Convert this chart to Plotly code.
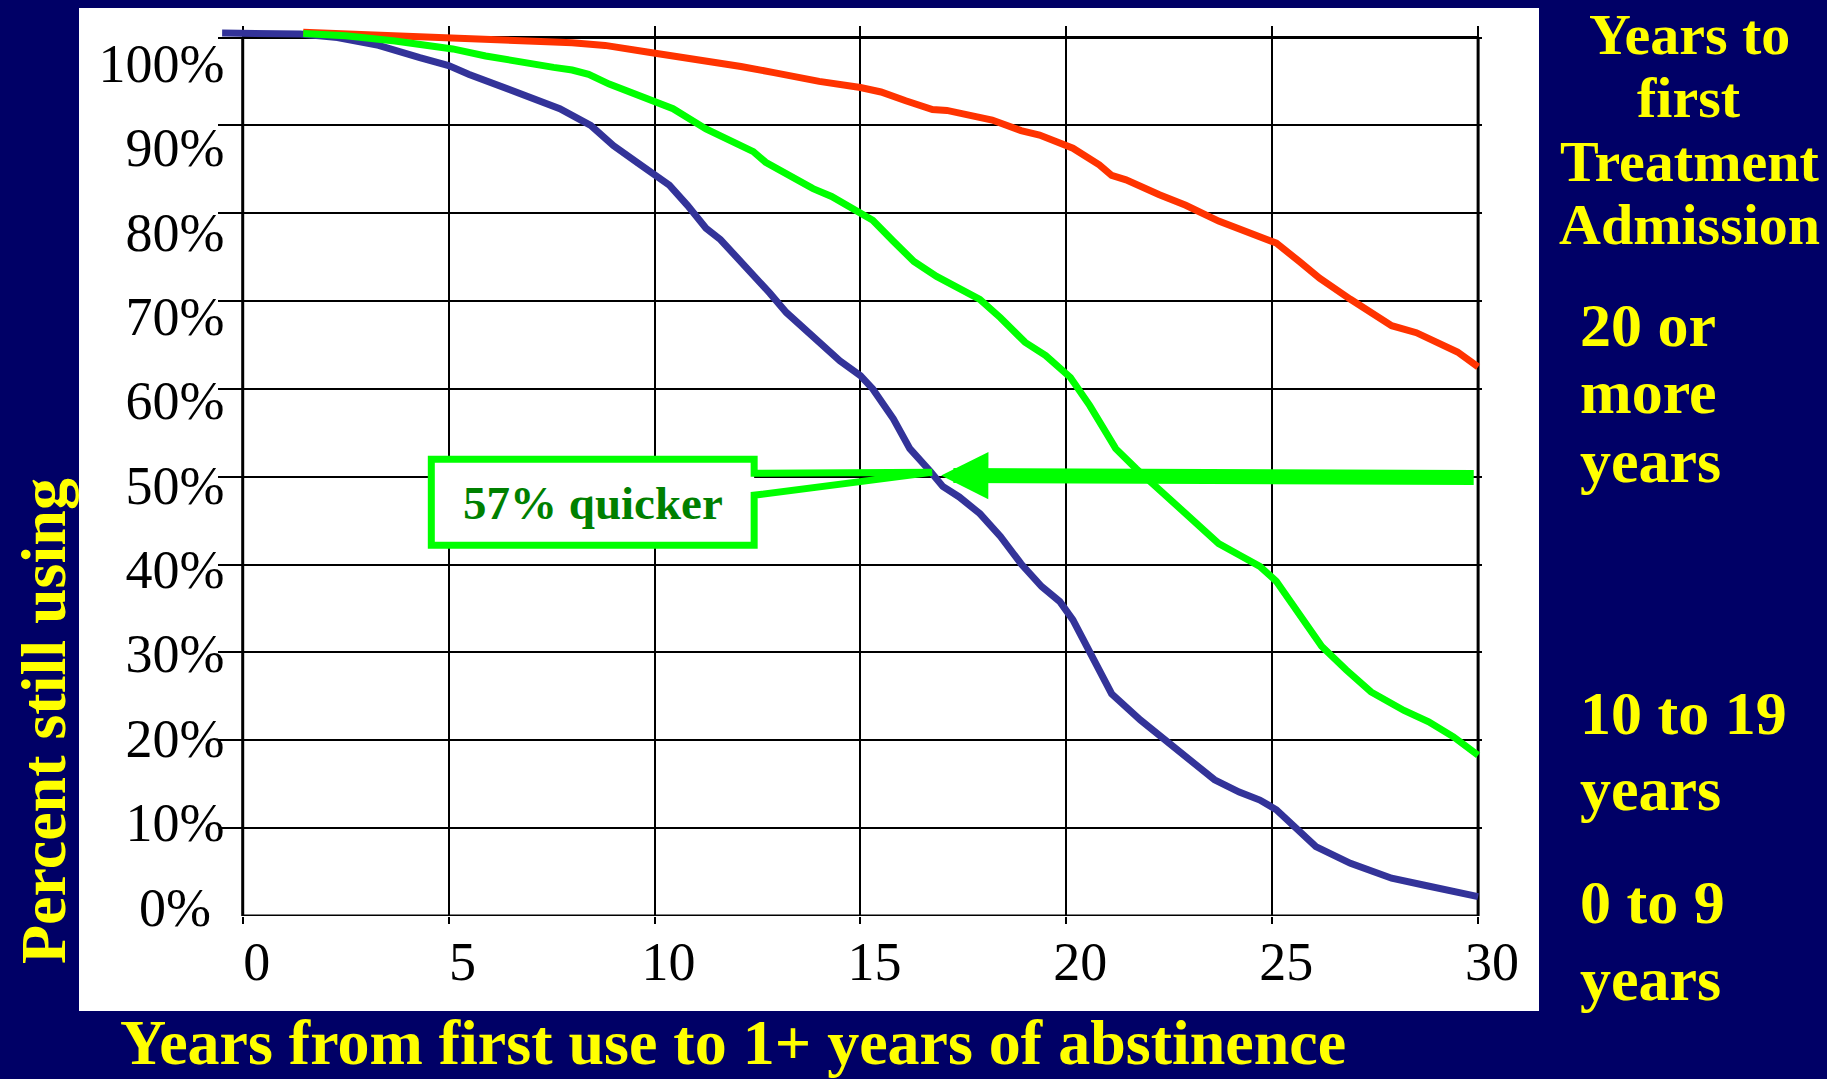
import plotly.graph_objects as go

# ---------------- data ----------------
years_0_9 = [-0.5, 1.4, 2.3, 3.3, 4.3, 5.0, 5.5, 6.2, 6.9, 7.7, 8.45, 9.0, 9.6, 10.36, 10.8,
             11.25, 11.6, 12.3, 12.8, 13.2, 13.85, 14.5, 15.0, 15.3, 15.8, 16.2, 16.7, 17.0,
             17.4, 17.9, 18.4, 18.9, 19.4, 19.84, 20.16, 20.65, 21.1, 21.8, 22.3, 23.07, 23.6,
             24.2, 24.7, 25.1, 25.5, 26.06, 26.9, 27.5, 27.9, 28.7, 29.4, 30.0]
pct_0_9 = [100.5, 100.4, 100.0, 99.1, 97.7, 96.8, 95.8, 94.5, 93.2, 91.9, 90.0, 87.7, 85.7,
           83.2, 80.9, 78.3, 77.0, 73.6, 70.9, 68.7, 66.0, 63.2, 61.5, 60.0, 56.6, 53.2, 50.6,
           48.9, 47.7, 45.8, 43.2, 40.1, 37.5, 35.8, 33.7, 29.5, 25.3, 22.3, 20.4, 17.4, 15.5,
           14.1, 13.2, 12.1, 10.3, 7.9, 6.0, 5.0, 4.3, 3.5, 2.8, 2.2]

years_10_19 = [1.47, 2.5, 3.7, 4.6, 5.1, 5.9, 6.7, 7.55, 8.0, 8.4, 8.9, 9.4, 9.9, 10.45, 11.25,
               11.75, 12.4, 12.7, 13.3, 13.85, 14.3, 14.9, 15.3, 15.8, 16.3, 16.85, 17.4, 17.9,
               18.4, 19.0, 19.5, 20.1, 20.57, 20.8, 21.2, 21.7, 22.0, 22.5, 23.07, 23.7, 24.2,
               24.7, 25.1, 25.66, 26.2, 26.8, 27.4, 28.2, 28.8, 29.4, 30.0]
pct_10_19 = [100.45, 100.2, 99.6, 99.1, 98.7, 97.9, 97.2, 96.6, 96.3, 95.8, 94.7, 93.8, 92.8,
             91.9, 89.6, 88.5, 87.0, 85.8, 84.2, 82.8, 81.9, 80.4, 79.2, 76.8, 74.5, 72.8, 71.5,
             70.2, 68.1, 65.3, 63.8, 61.3, 58.1, 56.2, 53.2, 50.9, 49.6, 47.4, 44.9, 42.4, 41.1,
             39.8, 38.1, 34.5, 30.7, 28.0, 25.5, 23.4, 22.1, 20.4, 18.3]

years_20_plus = [1.47, 2.7, 4.0, 5.05, 6.1, 7.55, 8.0, 8.8, 9.9, 10.6, 11.3, 12.1, 12.9, 14.0,
                 15.0, 15.5, 16.1, 16.75, 17.1, 18.2, 18.9, 19.35, 20.16, 20.8, 21.1, 21.45,
                 22.26, 22.9, 23.7, 24.4, 25.1, 25.66, 26.15, 26.9, 27.9, 28.5, 29.05, 29.5, 30.0]
pct_20_plus = [100.6, 100.4, 100.2, 100.1, 99.8, 99.5, 99.4, 99.1, 98.3, 97.8, 97.4, 96.7, 96.0,
               95.0, 94.3, 93.8, 92.8, 91.8, 91.7, 90.6, 89.4, 88.9, 87.4, 85.5, 84.3, 83.8,
               82.1, 80.9, 79.1, 77.9, 76.6, 74.5, 72.6, 70.2, 67.2, 66.4, 65.3, 64.2, 62.5]

x_ticks = [0, 5, 10, 15, 20, 25, 30]
x_tick_text = [str(v) for v in x_ticks]
y_ticks = [0, 10, 20, 30, 40, 50, 60, 70, 80, 90, 100]
y_tick_text = ["0%\u00a0"] + [f"{v}%" for v in y_ticks[1:]]

# callout / arrow anchor values (data units)
median_point = (16.96, 50.15)     # where the arrow meets the 0-9 curve
arrow_tail = (29.93, 49.9)
callout_tip = (16.74, 50.5)
callout_box = dict(x0=4.58, x1=12.42, y0=42.2, y1=52.0, wedge_top=50.4, wedge_bottom=47.9)
callout_text = "57% quicker"

# ---------------- style ----------------
BG = "#000066"
YELLOW = "#FFFF00"
SERIF = "Liberation Serif, Times New Roman, serif"
C_BLUE = "#333399"
C_RED = "#FF3300"
C_GREEN = "#00FF00"

fig = go.Figure()
for xs, ys, col in [(years_0_9, pct_0_9, C_BLUE),
                    (years_20_plus, pct_20_plus, C_RED),
                    (years_10_19, pct_10_19, C_GREEN)]:
    fig.add_trace(go.Scatter(x=xs, y=ys, mode="lines", line=dict(color=col, width=7),
                             hoverinfo="skip", showlegend=False))
# carrier trace for the label axis
fig.add_trace(go.Scatter(x=[], y=[], yaxis="y2", showlegend=False, hoverinfo="skip"))

L, R, T, B = 218, 345, 26, 163
W, H = 1827, 1079
PW, PH = W - L - R, H - T - B


def px_x(p):
    return (p - L) / PW


def px_y(p):
    return (H - B - p) / PH


shapes = []
# white slide panel
shapes.append(dict(type="rect", xref="paper", yref="paper", x0=px_x(79), x1=px_x(1539),
                   y0=px_y(1011), y1=px_y(8), fillcolor="white", line=dict(width=0),
                   layer="below"))
# frame
xmin, xmax, ymin, ymax = x_ticks[0], x_ticks[-1], y_ticks[0], y_ticks[-1]
for (a0, b0, a1, b1) in [(xmin, ymin, xmax, ymin), (xmin, ymax, xmax, ymax),
                         (xmin, ymin, xmin, ymax), (xmax, ymin, xmax, ymax)]:
    shapes.append(dict(type="line", xref="x", yref="y", x0=a0, y0=b0, x1=a1, y1=b1,
                       line=dict(color="black", width=3), layer="between"))
# callout box
cb = callout_box
shapes.append(dict(type="rect", xref="x", yref="y", x0=cb["x0"], x1=cb["x1"], y0=cb["y0"],
                   y1=cb["y1"], fillcolor="white", line=dict(width=0), layer="above"))
path = (f"M {cb['x1']},{cb['wedge_top']} L {callout_tip[0]},{callout_tip[1]} "
        f"L {cb['x1']},{cb['wedge_bottom']} L {cb['x1']},{cb['y0']} L {cb['x0']},{cb['y0']} "
        f"L {cb['x0']},{cb['y1']} L {cb['x1']},{cb['y1']} Z")
shapes.append(dict(type="path", xref="x", yref="y", path=path, fillcolor="rgba(0,0,0,0)",
                   line=dict(color=C_GREEN, width=7), layer="above"))

annotations = []
# big arrow
annotations.append(dict(x=median_point[0], y=median_point[1], ax=arrow_tail[0], ay=arrow_tail[1],
                        xref="x", yref="y", axref="x", ayref="y", text="", showarrow=True,
                        arrowhead=2, arrowsize=0.63, arrowwidth=15, arrowcolor=C_GREEN))
annotations.append(dict(x=(cb["x0"] + cb["x1"]) / 2, y=47.0, xref="x", yref="y",
                        text=f"<b>{callout_text}</b>", showarrow=False,
                        font=dict(family=SERIF, size=47, color="#008000"),
                        xanchor="center", yanchor="middle"))
# axis titles
annotations.append(dict(x=px_x(733), y=px_y(1042), xref="paper", yref="paper",
                        text="<b>Years from first use to 1+ years of abstinence</b>",
                        showarrow=False, font=dict(family=SERIF, size=64, color=YELLOW),
                        xanchor="center", yanchor="middle"))
annotations.append(dict(x=px_x(43), y=px_y(721), xref="paper", yref="paper",
                        text="<b>Percent still using</b>", textangle=-90,
                        showarrow=False, font=dict(family=SERIF, size=64, color=YELLOW),
                        xanchor="center", yanchor="middle"))
# legend-like side text
header = [("Years to", 35), ("first", 97), ("Treatment", 162), ("Admission", 224)]
for txt, py in header:
    annotations.append(dict(x=px_x(1689), y=px_y(py), xref="paper", yref="paper",
                            text=f"<b>{txt}</b>", showarrow=False,
                            font=dict(family=SERIF, size=58, color=YELLOW),
                            xanchor="center", yanchor="middle"))
groups = [("20 or", 325), ("more", 392), ("years", 461),
          ("10 to 19", 713), ("years", 789),
          ("0 to 9", 902), ("years", 979)]
for txt, py in groups:
    annotations.append(dict(x=px_x(1578), y=px_y(py), xref="paper", yref="paper",
                            text=f"<b>{txt}</b>", showarrow=False,
                            font=dict(family=SERIF, size=62, color=YELLOW),
                            xanchor="left", yanchor="middle"))

px_per_x = 41.18
px_per_y = 8.785
label_px_per_unit = 8.437
label_zero_px = 906.7

fig.update_layout(
    width=W, height=H,
    margin=dict(l=L, r=R, t=T, b=B, pad=0),
    paper_bgcolor=BG, plot_bgcolor="white",
    xaxis=dict(range=[-0.6, -0.6 + PW / px_per_x], tickvals=x_ticks, ticktext=x_tick_text,
               showgrid=True, gridcolor="black", gridwidth=2, zeroline=False, showline=False,
               ticks="outside", ticklen=7, tickwidth=2, tickcolor="black",
               tickfont=dict(family=SERIF, size=54, color="black"),
               ticklabelshift=14, ticklabelstandoff=-9, fixedrange=True),
    yaxis=dict(range=[0, PH / px_per_y], tickvals=y_ticks, showticklabels=False,
               showgrid=True, gridcolor="black", gridwidth=2, zeroline=False, ticks="",
               fixedrange=True),
    yaxis2=dict(overlaying="y", anchor="free", side="left",
                position=px_x(242.4),
                range=[(label_zero_px - (H - B)) / label_px_per_unit,
                       (label_zero_px - T) / label_px_per_unit],
                tickvals=y_ticks, ticktext=y_tick_text, showgrid=False, zeroline=False,
                ticks="", showline=False,
                tickfont=dict(family=SERIF, size=54, color="black"),
                ticklabelstandoff=18, fixedrange=True),
    shapes=shapes,
    annotations=annotations,
    showlegend=False,
)

fig.write_html("out.html")
